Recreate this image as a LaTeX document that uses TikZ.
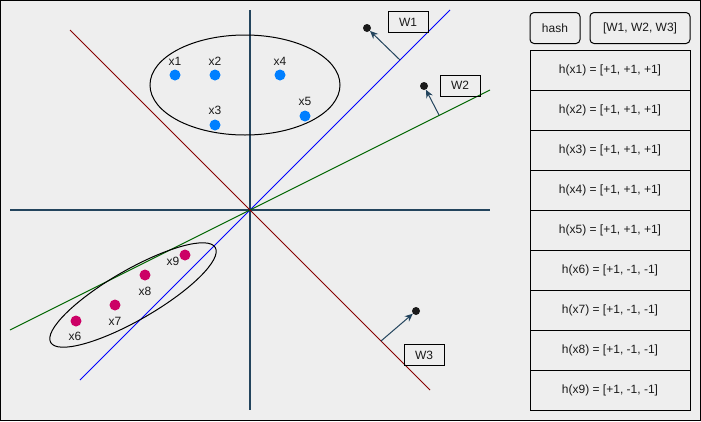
\documentclass[tikz,border=0pt]{standalone}
\usepackage{fontspec}
\setmainfont{Liberation Sans}
\usetikzlibrary{arrows.meta}
\definecolor{bg}{HTML}{EEEEEE}
\definecolor{axis}{HTML}{23445D}
\definecolor{ptblue}{HTML}{007FFF}
\definecolor{ptred}{HTML}{CC0066}
\definecolor{lgreen}{HTML}{006600}
\definecolor{lred}{HTML}{880000}
\definecolor{txt}{HTML}{1A1A1A}
\tikzset{
  lbl/.style={font=\fontsize{12}{14}\selectfont, text=txt, inner sep=0pt},
  dotb/.style={circle, fill=ptblue, minimum size=11pt, inner sep=0pt},
  dotr/.style={circle, fill=ptred, minimum size=11pt, inner sep=0pt},
  wdot/.style={circle, fill=txt, minimum size=8pt, inner sep=0pt},
  wbox/.style={draw=black, line width=1pt, minimum width=40pt, minimum height=21pt, inner sep=0pt, font=\fontsize{12}{14}\selectfont, text=txt},
  rbox/.style={draw=black, line width=1pt, rounded corners=4pt, minimum height=31pt, inner sep=0pt, font=\fontsize{12}{14}\selectfont, text=txt},
  row/.style={draw=black, line width=1pt, minimum width=160pt, minimum height=40pt, inner sep=0pt, font=\fontsize{12}{14}\selectfont, text=txt},
  axisline/.style={draw=axis, line width=2pt},
  warrow/.style={draw=axis, line width=1pt, -{Stealth[length=8pt,width=7pt]}},
}
\begin{document}
\begin{tikzpicture}[x=1pt,y=-1pt]
\useasboundingbox (0,0) rectangle (701,421);
\fill[bg] (0,0) rectangle (701,421);
\draw[black, line width=1pt] (0.5,0.5) rectangle (700.5,420.5);
% axes
\coordinate (vt) at (250,10); \coordinate (vb) at (250,410);
\coordinate (hl) at (10,210); \coordinate (hr) at (490,210);
\draw[axisline] (vt) -- (vb);
\draw[axisline] (hl) -- (hr);
% hyperplanes
\coordinate (b1) at (80,380); \coordinate (b2) at (450,10);
\coordinate (g1) at (10,330); \coordinate (g2) at (490,90);
\coordinate (r1) at (70,30); \coordinate (r2) at (430,390);
\draw[blue, line width=1pt] (b1) -- (b2);
\draw[lgreen, line width=1pt] (g1) -- (g2);
\draw[lred, line width=1pt] (r1) -- (r2);
% ellipses
\draw[black, line width=1pt] (245,85) ellipse [x radius=95, y radius=50];
\draw[black, line width=1pt, rotate around={30:(133,295)}] (133,295) ellipse [x radius=95, y radius=25];
% normal vectors
\coordinate (a1) at (400,60); \node[wdot] (w1d) at (367,28) {};
\coordinate (a2) at (439,115); \node[wdot] (w2d) at (424,86) {};
\coordinate (a3) at (381,341); \node[wdot] (w3d) at (416,311) {};
\draw[warrow] (a1) -- (w1d);
\draw[warrow] (a2) -- (w2d);
\draw[warrow] (a3) -- (w3d);
\node[wbox] (W1) at (408,22) {W1};
\node[wbox] (W2) at (460,85.5) {W2};
\node[wbox] (W3) at (424,355) {W3};
% blue points
\node[dotb] (p1) at (175,75) {}; \node[lbl] (l1) at (175,61) {x1};
\node[dotb] (p2) at (215,75) {}; \node[lbl] (l2) at (215,61) {x2};
\node[dotb] (p3) at (215,125) {}; \node[lbl] (l3) at (215,110) {x3};
\node[dotb] (p4) at (280,75) {}; \node[lbl] (l4) at (280,61) {x4};
\node[dotb] (p5) at (305,116) {}; \node[lbl] (l5) at (305,101) {x5};
% red points
\node[dotr] (p6) at (76,321) {}; \node[lbl] (l6) at (75,336) {x6};
\node[dotr] (p7) at (115,305) {}; \node[lbl] (l7) at (115,321) {x7};
\node[dotr] (p8) at (145,275) {}; \node[lbl] (l8) at (145,291) {x8};
\node[dotr] (p9) at (185,255) {}; \node[lbl] (l9) at (173,261) {x9};
% table
\node[rbox, minimum width=50pt] (hash) at (555,28) {hash};
\node[rbox, minimum width=100pt] (ws) at (640,28) {[W1, W2, W3]};
\node[row] (h1) at (610,70) {h(x1) = [+1, +1, +1]};
\node[row] (h2) at (610,110) {h(x2) = [+1, +1, +1]};
\node[row] (h3) at (610,150) {h(x3) = [+1, +1, +1]};
\node[row] (h4) at (610,190) {h(x4) = [+1, +1, +1]};
\node[row] (h5) at (610,230) {h(x5) = [+1, +1, +1]};
\node[row] (h6) at (610,270) {h(x6) = [+1, -1, -1]};
\node[row] (h7) at (610,310) {h(x7) = [+1, -1, -1]};
\node[row] (h8) at (610,350) {h(x8) = [+1, -1, -1]};
\node[row] (h9) at (610,390) {h(x9) = [+1, -1, -1]};
\end{tikzpicture}
\end{document}
